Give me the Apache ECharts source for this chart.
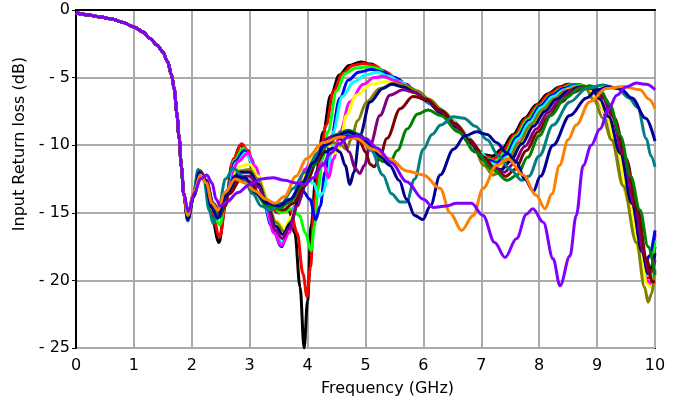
<!DOCTYPE html>
<html>
<head>
<meta charset="utf-8">
<script src="https://cdn.jsdelivr.net/npm/echarts@6/dist/echarts.min.js"></script>
<style>
  html, body { margin: 0; padding: 0; background: #fff; }
  #chart { width: 678px; height: 405px; }
</style>
</head>
<body>
<div id="chart"></div>
<script>
// Input return loss (dB) versus frequency (GHz) for a sweep of 16 designs.
// Each curve is a list of [GHz, dB] points.

const xTicks = [0, 1, 2, 3, 4, 5, 6, 7, 8, 9, 10];
const yTicks = [0, -5, -10, -15, -20, -25];

// Low-band roll-off that every design shares
const lowBand = [[0,-0.2],[0.2,-0.35],[0.4,-0.5],[0.6,-0.65],[0.8,-0.9],[1.0,-1.25],[1.15,-1.6],[1.28,-2.1],[1.4,-2.6],[1.5,-3.1],[1.58,-3.8],[1.65,-4.8],[1.7,-5.9],[1.74,-7.6],[1.78,-9.4],[1.82,-11.6],[1.86,-13.6]];

const curveBlack = [[1.93,-15.5],[2.02,-13.8],[2.12,-12.0],[2.22,-12.6],[2.33,-15.0],[2.47,-17.2],[2.58,-14.5],[2.7,-11.3],[2.84,-10.0],[2.95,-10.5],[3.1,-12.4],[3.3,-14.4],[3.5,-15.0],[3.68,-14.8],[3.78,-16.5],[3.87,-20.5],[3.94,-25],[4.0,-21.5],[4.06,-16.0],[4.15,-12.0],[4.27,-9.0],[4.4,-6.3],[4.55,-4.8],[4.72,-4.1],[4.92,-3.85],[5.1,-4.0],[5.3,-4.5],[5.5,-5.0],[5.75,-5.8],[6.0,-6.6],[6.3,-7.5],[6.6,-8.8],[6.85,-10.0],[7.05,-10.7],[7.2,-10.8],[7.35,-10.3],[7.55,-9.2],[7.75,-8.0],[7.95,-7.0],[8.15,-6.2],[8.35,-5.7],[8.5,-5.5],[8.7,-5.55],[8.9,-5.8],[9.05,-6.8],[9.25,-9.2],[9.45,-12.6],[9.65,-16.2],[9.82,-19.2],[9.9,-19.6],[10,-17.5]];

const curveRed = [[1.93,-15.4],[2.02,-13.8],[2.12,-12.0],[2.22,-12.6],[2.34,-14.8],[2.48,-16.8],[2.6,-14.0],[2.72,-11.0],[2.86,-9.9],[2.97,-10.4],[3.1,-12.2],[3.3,-14.2],[3.5,-15.0],[3.7,-14.8],[3.82,-16.5],[3.92,-19.5],[3.99,-21.2],[4.05,-19.0],[4.12,-14.0],[4.2,-11.5],[4.32,-8.5],[4.45,-6.0],[4.6,-4.7],[4.78,-4.1],[4.97,-3.95],[5.15,-4.1],[5.35,-4.6],[5.55,-5.1],[5.8,-5.9],[6.05,-6.7],[6.3,-7.6],[6.6,-8.9],[6.85,-10.1],[7.05,-10.8],[7.22,-11.0],[7.38,-10.4],[7.58,-9.2],[7.78,-8.0],[7.98,-7.0],[8.18,-6.2],[8.38,-5.7],[8.52,-5.5],[8.72,-5.55],[8.92,-5.9],[9.08,-7.0],[9.28,-9.5],[9.48,-13.0],[9.68,-16.8],[9.85,-19.8],[9.92,-19.8],[10,-16.5]];

const curveLime = [[1.93,-15.4],[2.03,-13.8],[2.13,-12.0],[2.23,-12.7],[2.35,-14.7],[2.48,-15.9],[2.6,-13.8],[2.74,-11.1],[2.89,-10.2],[3.0,-10.8],[3.15,-12.6],[3.35,-14.4],[3.55,-15.0],[3.72,-14.7],[3.86,-15.2],[3.96,-16.5],[4.06,-17.8],[4.12,-16.0],[4.18,-13.2],[4.26,-11.0],[4.35,-9.0],[4.5,-6.0],[4.65,-4.7],[4.82,-4.3],[5.02,-4.2],[5.2,-4.3],[5.4,-4.8],[5.6,-5.3],[5.85,-6.1],[6.1,-6.9],[6.35,-7.8],[6.65,-9.1],[6.9,-10.3],[7.1,-11.0],[7.25,-11.2],[7.4,-10.6],[7.6,-9.3],[7.8,-8.1],[8.0,-7.1],[8.2,-6.3],[8.4,-5.8],[8.55,-5.55],[8.75,-5.6],[8.95,-6.0],[9.1,-7.1],[9.3,-9.7],[9.5,-13.2],[9.7,-17.0],[9.86,-19.5],[9.93,-19.3],[10,-17.0]];

const curveBlue = [[1.93,-15.3],[2.03,-13.7],[2.13,-11.9],[2.23,-12.6],[2.35,-14.4],[2.48,-15.3],[2.6,-13.6],[2.75,-11.2],[2.91,-10.4],[3.02,-11.0],[3.18,-13.0],[3.38,-16.0],[3.55,-17.5],[3.68,-16.0],[3.8,-14.2],[3.92,-13.4],[4.04,-14.0],[4.14,-15.5],[4.22,-14.5],[4.3,-12.0],[4.4,-9.5],[4.56,-6.5],[4.7,-5.2],[4.88,-4.6],[5.1,-4.4],[5.3,-4.6],[5.5,-5.0],[5.7,-5.5],[5.9,-6.2],[6.15,-7.0],[6.4,-7.9],[6.7,-9.2],[6.95,-10.5],[7.12,-11.1],[7.27,-11.3],[7.42,-10.7],[7.62,-9.4],[7.82,-8.2],[8.02,-7.1],[8.22,-6.3],[8.42,-5.8],[8.58,-5.6],[8.78,-5.7],[8.95,-6.2],[9.1,-7.2],[9.3,-9.8],[9.5,-13.3],[9.68,-16.6],[9.84,-18.7],[9.9,-18.2],[10,-16.3]];

const curveCyan = [[1.93,-15.3],[2.03,-13.7],[2.13,-11.9],[2.23,-12.6],[2.35,-14.3],[2.48,-15.2],[2.6,-13.6],[2.77,-11.3],[2.93,-10.6],[3.05,-11.3],[3.2,-13.3],[3.4,-16.0],[3.55,-17.2],[3.68,-16.2],[3.82,-13.8],[3.97,-12.5],[4.1,-12.8],[4.2,-13.8],[4.27,-13.5],[4.35,-12.2],[4.44,-9.0],[4.6,-6.4],[4.8,-5.3],[5.0,-4.8],[5.2,-4.6],[5.4,-4.9],[5.6,-5.3],[5.8,-5.8],[6.0,-6.4],[6.25,-7.2],[6.5,-8.1],[6.75,-9.3],[7.0,-10.6],[7.15,-11.3],[7.28,-11.5],[7.44,-10.9],[7.64,-9.5],[7.84,-8.3],[8.04,-7.2],[8.24,-6.4],[8.44,-5.9],[8.6,-5.65],[8.8,-5.75],[8.97,-6.3],[9.12,-7.4],[9.32,-10.0],[9.52,-13.6],[9.7,-17.0],[9.85,-19.6],[9.92,-19.5],[10,-20.0]];

const curveMagenta = [[1.93,-15.3],[2.03,-13.6],[2.14,-11.9],[2.24,-12.6],[2.36,-14.3],[2.48,-15.1],[2.62,-13.3],[2.8,-11.2],[2.97,-10.6],[3.1,-11.6],[3.25,-13.8],[3.42,-16.5],[3.55,-17.4],[3.68,-16.5],[3.82,-14.0],[3.95,-11.8],[4.1,-11.0],[4.2,-11.3],[4.28,-11.4],[4.36,-12.4],[4.45,-11.0],[4.56,-9.0],[4.73,-6.8],[4.96,-5.5],[5.15,-5.0],[5.3,-4.9],[5.5,-5.2],[5.7,-5.6],[5.9,-6.1],[6.1,-6.7],[6.35,-7.6],[6.6,-8.6],[6.85,-9.9],[7.05,-11.0],[7.2,-11.6],[7.32,-11.7],[7.48,-11.0],[7.68,-9.6],[7.88,-8.4],[8.08,-7.3],[8.28,-6.5],[8.48,-5.9],[8.62,-5.7],[8.82,-5.8],[8.98,-6.4],[9.14,-7.6],[9.34,-10.3],[9.54,-14.0],[9.72,-17.5],[9.86,-20.0],[9.93,-20.3],[10,-20.1]];

const curveYellow = [[1.93,-15.3],[2.04,-13.6],[2.14,-11.9],[2.24,-12.6],[2.36,-14.2],[2.48,-15.0],[2.63,-13.3],[2.82,-11.6],[3.0,-11.4],[3.15,-12.3],[3.3,-14.0],[3.45,-15.6],[3.6,-16.1],[3.72,-15.3],[3.85,-13.8],[3.98,-12.0],[4.1,-10.8],[4.25,-10.0],[4.35,-10.0],[4.47,-10.6],[4.55,-10.2],[4.67,-7.8],[4.84,-6.3],[5.1,-5.5],[5.35,-5.3],[5.55,-5.5],[5.75,-5.9],[5.95,-6.4],[6.2,-7.1],[6.45,-8.0],[6.7,-9.2],[6.95,-10.6],[7.1,-11.5],[7.22,-12.0],[7.35,-11.6],[7.5,-10.8],[7.7,-9.6],[7.9,-8.4],[8.1,-7.3],[8.3,-6.5],[8.5,-5.9],[8.64,-5.7],[8.84,-5.8],[9.0,-6.5],[9.15,-7.7],[9.35,-10.5],[9.55,-14.3],[9.73,-17.9],[9.87,-20.3],[9.93,-20.5],[10,-19.5]];

const curveOlive = [[1.93,-15.4],[2.04,-13.6],[2.14,-11.9],[2.24,-12.6],[2.36,-14.3],[2.48,-15.0],[2.63,-13.4],[2.82,-11.9],[3.0,-11.8],[3.15,-12.6],[3.3,-14.1],[3.45,-15.7],[3.6,-16.4],[3.72,-15.6],[3.85,-14.0],[4.0,-12.2],[4.15,-10.8],[4.3,-10.0],[4.45,-9.8],[4.58,-10.0],[4.67,-10.3],[4.76,-9.5],[4.86,-8.2],[5.02,-6.8],[5.25,-5.8],[5.5,-5.4],[5.7,-5.6],[5.9,-6.0],[6.1,-6.6],[6.35,-7.5],[6.6,-8.6],[6.85,-10.0],[7.05,-11.5],[7.2,-12.2],[7.32,-12.0],[7.45,-11.2],[7.65,-9.8],[7.85,-8.5],[8.05,-7.4],[8.25,-6.6],[8.45,-6.0],[8.65,-5.7],[8.8,-5.8],[8.95,-6.7],[9.1,-8.0],[9.25,-9.6],[9.45,-13.0],[9.68,-17.2],[9.82,-20.5],[9.88,-21.6],[9.94,-21.0],[10,-19.2]];

const curveNavy = [[1.93,-15.4],[2.04,-13.6],[2.14,-11.9],[2.25,-12.6],[2.37,-14.3],[2.48,-15.0],[2.64,-13.5],[2.83,-12.0],[3.0,-12.0],[3.15,-12.9],[3.3,-14.4],[3.45,-16.0],[3.57,-16.6],[3.7,-15.8],[3.85,-14.0],[4.0,-12.5],[4.15,-11.3],[4.3,-10.5],[4.45,-10.2],[4.56,-10.5],[4.65,-11.5],[4.73,-12.9],[4.8,-12.0],[4.9,-9.3],[5.08,-6.8],[5.3,-5.8],[5.45,-5.5],[5.65,-5.7],[5.85,-6.1],[6.05,-6.7],[6.3,-7.6],[6.55,-8.6],[6.8,-9.8],[7.05,-11.1],[7.22,-11.7],[7.35,-11.8],[7.5,-11.2],[7.7,-9.9],[7.9,-8.6],[8.1,-7.5],[8.3,-6.6],[8.5,-6.0],[8.7,-5.7],[8.9,-5.8],[9.05,-6.6],[9.2,-7.9],[9.4,-10.6],[9.6,-14.3],[9.78,-17.9],[9.88,-19.5],[9.95,-19.0],[10,-18.0]];

const curvePurple = [[1.93,-15.4],[2.04,-13.6],[2.15,-11.9],[2.25,-12.6],[2.37,-14.4],[2.48,-15.0],[2.65,-13.6],[2.85,-12.3],[3.0,-12.3],[3.15,-13.1],[3.3,-14.6],[3.45,-16.3],[3.56,-16.9],[3.68,-16.2],[3.82,-14.5],[3.98,-12.5],[4.15,-10.8],[4.3,-9.6],[4.45,-9.3],[4.6,-9.6],[4.72,-10.5],[4.82,-11.7],[4.9,-12.1],[4.98,-11.5],[5.08,-10.0],[5.25,-7.8],[5.42,-6.3],[5.65,-5.9],[5.85,-6.1],[6.05,-6.6],[6.3,-7.5],[6.55,-8.5],[6.8,-9.7],[7.05,-11.0],[7.25,-11.8],[7.4,-12.0],[7.55,-11.4],[7.75,-10.1],[7.95,-8.8],[8.15,-7.6],[8.35,-6.7],[8.55,-6.0],[8.75,-5.7],[8.95,-5.8],[9.1,-6.5],[9.25,-7.8],[9.45,-10.7],[9.65,-14.5],[9.82,-18.2],[9.9,-19.5],[9.96,-19.2],[10,-18.5]];

const curveMaroon = [[1.93,-15.5],[2.04,-13.7],[2.15,-12.0],[2.25,-12.7],[2.37,-14.5],[2.48,-15.2],[2.65,-13.6],[2.85,-12.5],[3.0,-12.7],[3.2,-13.8],[3.4,-14.6],[3.58,-14.8],[3.75,-14.3],[3.95,-13.0],[4.15,-11.3],[4.35,-9.9],[4.55,-9.2],[4.75,-9.2],[4.9,-9.7],[5.0,-10.5],[5.08,-11.4],[5.15,-11.6],[5.24,-11.0],[5.37,-9.5],[5.6,-7.3],[5.82,-6.4],[6.05,-6.6],[6.3,-7.4],[6.55,-8.4],[6.8,-9.6],[7.05,-10.9],[7.25,-11.9],[7.42,-12.3],[7.58,-11.8],[7.78,-10.4],[7.98,-9.0],[8.18,-7.8],[8.38,-6.8],[8.58,-6.1],[8.8,-5.7],[9.0,-5.9],[9.15,-6.6],[9.3,-8.0],[9.5,-11.0],[9.7,-14.8],[9.86,-18.5],[9.95,-20.1],[10,-20.1]];

const curveGreen = [[1.93,-15.5],[2.04,-13.7],[2.14,-12.0],[2.24,-12.7],[2.36,-14.6],[2.47,-15.3],[2.6,-13.5],[2.75,-12.3],[2.9,-12.5],[3.1,-13.6],[3.3,-14.5],[3.5,-14.7],[3.7,-14.2],[3.9,-13.0],[4.1,-11.5],[4.3,-10.0],[4.5,-9.2],[4.7,-8.9],[4.9,-9.2],[5.1,-10.2],[5.3,-11.2],[5.42,-11.3],[5.55,-10.4],[5.72,-8.8],[5.9,-7.7],[6.08,-7.4],[6.3,-7.8],[6.6,-9.0],[6.9,-10.5],[7.2,-11.8],[7.45,-12.6],[7.62,-12.2],[7.8,-10.9],[8.0,-9.3],[8.2,-7.8],[8.45,-6.5],[8.7,-5.8],[8.88,-5.6],[9.05,-5.9],[9.22,-7.0],[9.4,-9.3],[9.58,-12.3],[9.74,-14.8],[9.88,-17.5],[10,-19.6]];

const curveTeal = [[1.93,-15.6],[2.02,-13.8],[2.11,-11.8],[2.21,-12.6],[2.3,-14.8],[2.37,-15.8],[2.47,-14.5],[2.58,-12.5],[2.72,-11.7],[2.88,-12.3],[3.05,-13.6],[3.2,-14.5],[3.35,-14.8],[3.55,-14.3],[3.75,-13.2],[3.95,-12.0],[4.2,-10.5],[4.45,-9.5],[4.7,-9.1],[4.9,-9.4],[5.1,-10.4],[5.3,-12.2],[5.45,-13.6],[5.6,-14.2],[5.71,-14.2],[5.85,-12.5],[6.0,-10.3],[6.15,-9.2],[6.3,-8.5],[6.52,-7.9],[6.7,-8.0],[6.9,-8.6],[7.1,-9.6],[7.3,-10.8],[7.5,-11.8],[7.7,-12.6],[7.82,-12.3],[8.0,-10.8],[8.24,-8.5],[8.53,-6.8],[8.82,-5.8],[9.1,-5.55],[9.35,-5.8],[9.55,-6.5],[9.7,-7.2],[9.85,-9.5],[9.93,-10.8],[10,-11.6]];

const curveNavyDeep = [[1.93,-15.5],[2.03,-13.8],[2.13,-12.0],[2.23,-12.6],[2.34,-14.6],[2.45,-15.4],[2.58,-13.8],[2.75,-12.3],[2.92,-12.4],[3.1,-13.5],[3.3,-14.3],[3.5,-14.5],[3.7,-14.0],[3.9,-12.8],[4.1,-11.3],[4.3,-10.0],[4.5,-9.3],[4.7,-9.0],[4.9,-9.3],[5.1,-10.0],[5.25,-10.8],[5.42,-11.5],[5.58,-12.6],[5.71,-14.0],[5.85,-15.2],[5.99,-15.5],[6.12,-14.5],[6.29,-12.2],[6.52,-10.3],[6.72,-9.3],[6.92,-9.0],[7.1,-9.2],[7.26,-9.8],[7.45,-10.6],[7.6,-11.2],[7.75,-12.5],[7.9,-13.4],[8.02,-12.3],[8.24,-10.0],[8.53,-7.8],[8.82,-6.5],[9.0,-5.9],[9.2,-5.7],[9.4,-5.8],[9.6,-6.5],[9.84,-8.0],[10,-9.7]];

const curveOrange = [[1.93,-15.2],[2.04,-13.4],[2.15,-12.2],[2.25,-12.8],[2.35,-14.3],[2.45,-14.8],[2.57,-13.5],[2.75,-12.5],[2.92,-12.8],[3.1,-13.4],[3.28,-14.0],[3.43,-14.3],[3.6,-13.8],[3.8,-12.3],[3.98,-11.0],[4.27,-9.8],[4.56,-9.4],[4.84,-9.5],[5.13,-10.3],[5.42,-11.0],[5.71,-11.9],[6.0,-12.2],[6.29,-13.2],[6.46,-15.0],[6.66,-16.3],[6.86,-15.2],[7.03,-13.2],[7.26,-11.5],[7.46,-11.0],[7.72,-12.2],[7.95,-13.7],[8.1,-14.7],[8.22,-13.6],[8.35,-11.5],[8.5,-9.6],[8.64,-8.5],[8.87,-6.8],[9.16,-5.8],[9.45,-5.65],[9.74,-5.9],[9.9,-6.6],[10,-7.3]];

const curveViolet = [[1.94,-14.9],[2.05,-13.5],[2.15,-12.5],[2.26,-12.2],[2.35,-12.8],[2.42,-14.0],[2.49,-14.5],[2.6,-14.2],[2.8,-13.5],[3.0,-12.9],[3.2,-12.5],[3.4,-12.4],[3.6,-12.6],[3.8,-12.8],[3.95,-12.9],[4.1,-12.4],[4.25,-11.5],[4.4,-10.6],[4.55,-9.9],[4.7,-9.4],[4.85,-9.3],[5.0,-9.5],[5.2,-10.2],[5.45,-11.3],[5.71,-12.7],[6.0,-14.0],[6.17,-14.6],[6.4,-14.5],[6.57,-14.3],[6.83,-14.3],[7.03,-15.2],[7.23,-17.2],[7.41,-18.3],[7.61,-16.9],[7.78,-15.1],[7.89,-14.7],[8.07,-15.7],[8.24,-18.4],[8.36,-20.4],[8.53,-18.2],[8.64,-15.2],[8.76,-11.5],[8.9,-10.0],[9.05,-8.8],[9.2,-7.3],[9.34,-6.3],[9.5,-5.7],[9.68,-5.4],[9.85,-5.5],[10,-5.9]];

const curves = [
  { name: 'd1', color: '#000000', pts: curveBlack },
  { name: 'd2', color: '#ff0000', pts: curveRed },
  { name: 'd3', color: '#00ff00', pts: curveLime },
  { name: 'd4', color: '#0000ff', pts: curveBlue },
  { name: 'd5', color: '#00ffff', pts: curveCyan },
  { name: 'd6', color: '#ff00ff', pts: curveMagenta },
  { name: 'd7', color: '#ffff00', pts: curveYellow },
  { name: 'd8', color: '#808000', pts: curveOlive },
  { name: 'd9', color: '#000080', pts: curveNavy },
  { name: 'd10', color: '#800080', pts: curvePurple },
  { name: 'd11', color: '#800000', pts: curveMaroon },
  { name: 'd12', color: '#008000', pts: curveGreen },
  { name: 'd13', color: '#008080', pts: curveTeal },
  { name: 'd14', color: '#000099', pts: curveNavyDeep },
  { name: 'd15', color: '#ff8000', pts: curveOrange },
  { name: 'd16', color: '#8000ff', pts: curveViolet }
];

const FONT = 'DejaVu Sans';

const chart = echarts.init(document.getElementById('chart'), null, { renderer: 'canvas' });

chart.setOption({
  animation: false,
  backgroundColor: '#ffffff',
  grid: {
    left: 76, right: 23, top: 10, bottom: 57,
    containLabel: false,
    outerBoundsMode: 'none',
    show: true, borderColor: '#000', borderWidth: 2, backgroundColor: 'transparent'
  },
  xAxis: {
    type: 'value',
    min: xTicks[0], max: xTicks[xTicks.length - 1], interval: 1,
    name: 'Frequency (GHz)',
    nameLocation: 'middle',
    nameGap: 33,
    nameTextStyle: { fontFamily: FONT, fontSize: 16, color: '#000', padding: [0, 0, 0, 44] },
    axisLine: { show: true, lineStyle: { color: '#000', width: 2 } },
    axisTick: { show: false },
    axisLabel: { fontFamily: FONT, fontSize: 16, color: '#000', margin: 10 },
    splitLine: { show: true, lineStyle: { color: '#ababab', width: 2 } }
  },
  yAxis: {
    type: 'value',
    min: yTicks[yTicks.length - 1], max: yTicks[0], interval: 5,
    name: 'Input Return loss (dB)',
    nameLocation: 'middle',
    nameGap: 48,
    nameTextStyle: { fontFamily: FONT, fontSize: 16, color: '#000', padding: [0, 0, 0, 70] },
    axisLine: { show: true, onZero: false, lineStyle: { color: '#000', width: 2 } },
    axisTick: { show: true, inside: false, length: 4, lineStyle: { color: '#000', width: 1 } },
    axisLabel: {
      fontFamily: FONT, fontSize: 16, color: '#000', margin: 6,
      formatter: v => (v === 0 ? '0' : '- ' + Math.abs(v))
    },
    splitLine: { show: true, lineStyle: { color: '#ababab', width: 2 } }
  },
  series: curves.map(c => ({
    name: c.name,
    type: 'line',
    data: lowBand.concat(c.pts),
    showSymbol: false,
    smooth: 0.35,
    smoothMonotone: 'x',
    clip: true,
    lineStyle: { color: c.color, width: 3 },
    itemStyle: { color: c.color }
  }))
});
</script>
</body>
</html>
